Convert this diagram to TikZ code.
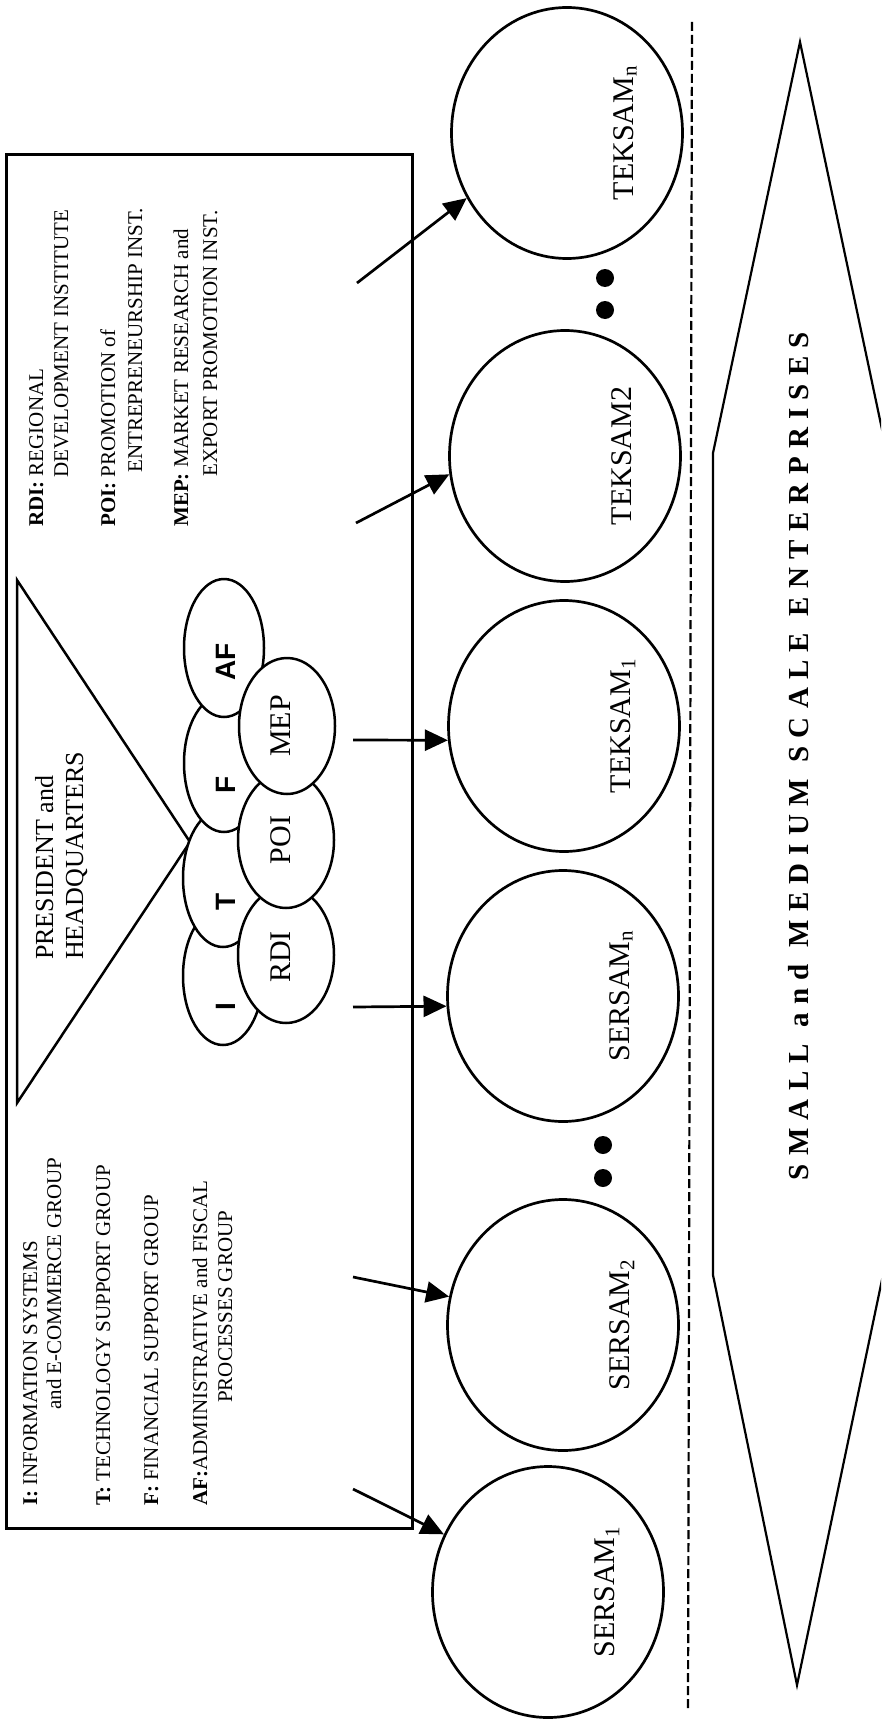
\documentclass[tikz,border=0pt]{standalone}
\usepackage{fontspec}
\setmainfont{Liberation Serif}
\newfontfamily\sansfont{Liberation Sans}
\usetikzlibrary{shapes.geometric,arrows.meta}
\begin{document}
\begin{tikzpicture}[x=1pt,y=-1pt,
  circ/.style={draw,ellipse,line width=2.7pt,minimum width=231pt,minimum height=251pt,inner sep=0pt},
  grp/.style={draw,ellipse,fill=white,line width=2.5pt,minimum width=80pt,minimum height=138pt,inner sep=0pt},
  inst/.style={draw,ellipse,fill=white,line width=2.5pt,minimum width=96pt,minimum height=136pt,inner sep=0pt},
  leg/.style={rotate=90,anchor=base west,inner sep=0pt,font=\fontsize{21}{25}\selectfont},
  pres/.style={rotate=90,anchor=base west,inner sep=0pt,font=\fontsize{26}{30}\selectfont},
  circlab/.style={rotate=90,anchor=base,inner sep=0pt,font=\fontsize{30}{36}\selectfont},
  grplab/.style={rotate=90,anchor=base,inner sep=0pt,font=\sansfont\bfseries\fontsize{28}{32}\selectfont},
  instlab/.style={rotate=90,anchor=base,inner sep=0pt,font=\fontsize{30}{36}\selectfont},
  arr/.style={line width=2.7pt,-{Triangle[length=23pt,width=21pt]}},
  dotn/.style={circle,fill,inner sep=0pt,minimum size=18pt}
]
\path[use as bounding box] (0,0) rectangle (881,1728);

% big double-headed arrow shape
\begin{scope}
\clip (0,0) rectangle (881,1728);
\draw[line width=2.2pt,line join=miter] (800,42) -- (713,453) -- (713,1275) -- (797,1685) -- (883,1275) -- (887,453) -- cycle;
\end{scope}

% dashed separator
\draw[line width=2.2pt,dash pattern=on 9pt off 4pt] (692,22) -- (688,1710);

% legend box
\draw[line width=3pt] (6,155) rectangle (412,1528);

% triangle
\draw[line width=2.5pt,line join=miter] (17,580) -- (190,842) -- (17,1103) -- cycle;
\node[pres] (pres1) at (53,960) {PRESIDENT and};
\node[pres] (pres2) at (83,960) {HEADQUARTERS};

% group ellipses
\node[grp] (gI) at (223,976) {};
\node[grp] (gT) at (223,878) {};
\node[grp] (gF) at (224,763) {};
\node[grp] (gAF) at (224,648) {};
\node[grplab] (lI) at (235,1007) {I};
\node[grplab] (lT) at (235,902) {T};
\node[grplab] (lF) at (235,785) {F};
\node[grplab] (lAF) at (235,662) {AF};

% institute ellipses
\node[inst] (iRDI) at (286,955) {};
\node[inst] (iPOI) at (286,840) {};
\node[inst] (iMEP) at (287,726) {};
\node[instlab] (lRDI) at (290,957) {RDI};
\node[instlab] (lPOI) at (290,840) {POI};
\node[instlab] (lMEP) at (290,726) {MEP};

% legends
\node[leg] (l1) at (43,527) {\textbf{RDI:} REGIONAL};
\node[leg] (l2) at (68,478) {DEVELOPMENT INSTITUTE};
\node[leg] (l3) at (115,527) {\textbf{POI:} PROMOTION of};
\node[leg] (l4) at (142,473) {ENTREPRENEURSHIP INST.};
\node[leg] (l5) at (188,527) {\textbf{MEP:} MARKET RESEARCH and};
\node[leg] (l6) at (217,477) {EXPORT PROMOTION INST.};

\node[leg] (l7) at (37,1506) {\textbf{I:} INFORMATION SYSTEMS};
\node[leg] (l8) at (61,1410) {and E-COMMERCE GROUP};
\node[leg] (l9) at (110,1506) {\textbf{T:} TECHNOLOGY SUPPORT GROUP};
\node[leg] (l10) at (158,1506) {\textbf{F:} FINANCIAL SUPPORT GROUP};
\node[leg] (l11) at (207,1506) {\textbf{AF:}ADMINISTRATIVE and FISCAL};
\node[leg] (l12) at (232,1403) {PROCESSES GROUP};

% centres
\node[circ] (tn) at (567,133) {};
\node[circ] (t2) at (565,456) {};
\node[circ] (t1) at (564,726) {};
\node[circ] (sn) at (563,996) {};
\node[circ] (s2) at (563,1325) {};
\node[circ] (s1) at (548,1592) {};
\node[circlab] (ltn) at (633,133) {TEKSAM\textsubscript{n}};
\node[circlab] (lt2) at (631,456) {TEKSAM2};
\node[circlab] (lt1) at (630,726) {TEKSAM\textsubscript{1}};
\node[circlab] (lsn) at (629,996) {SERSAM\textsubscript{n}};
\node[circlab] (ls2) at (629,1325) {SERSAM\textsubscript{2}};
\node[circlab] (ls1) at (614,1592) {SERSAM\textsubscript{1}};

% dots
\node[dotn] (d1) at (605,278) {};
\node[dotn] (d2) at (605,310) {};
\node[dotn] (d3) at (603,1145) {};
\node[dotn] (d4) at (603,1178) {};

% arrows
\coordinate (a1) at (357,283);
\coordinate (a2) at (356,523);
\coordinate (a3) at (353,740);
\coordinate (a4) at (353,1007);
\coordinate (a5) at (353,1277);
\coordinate (a6) at (353,1489);
\draw[arr] (a1) -- (tn.213);
\draw[arr] (a2) -- (t2.189);
\draw[arr] (a3) -- (t1.187);
\draw[arr] (a4) -- (sn.185);
\draw[arr] (a5) -- (s2.166);
\draw[arr] (a6) -- (s1.151);

% bottom label
\node[rotate=90,anchor=base,inner sep=0pt,font=\bfseries\fontsize{29}{32}\selectfont] (sme) at (808,756)
 {\makebox[848pt]{S\hfill M\hfill A\hfill L\hfill L\hfill\hfill a\hfill n\hfill d\hfill\hfill M\hfill E\hfill D\hfill I\hfill U\hfill M\hfill\hfill S\hfill C\hfill A\hfill L\hfill E\hfill\hfill E\hfill N\hfill T\hfill E\hfill R\hfill P\hfill R\hfill I\hfill S\hfill E\hfill S}};
\end{tikzpicture}
\end{document}
